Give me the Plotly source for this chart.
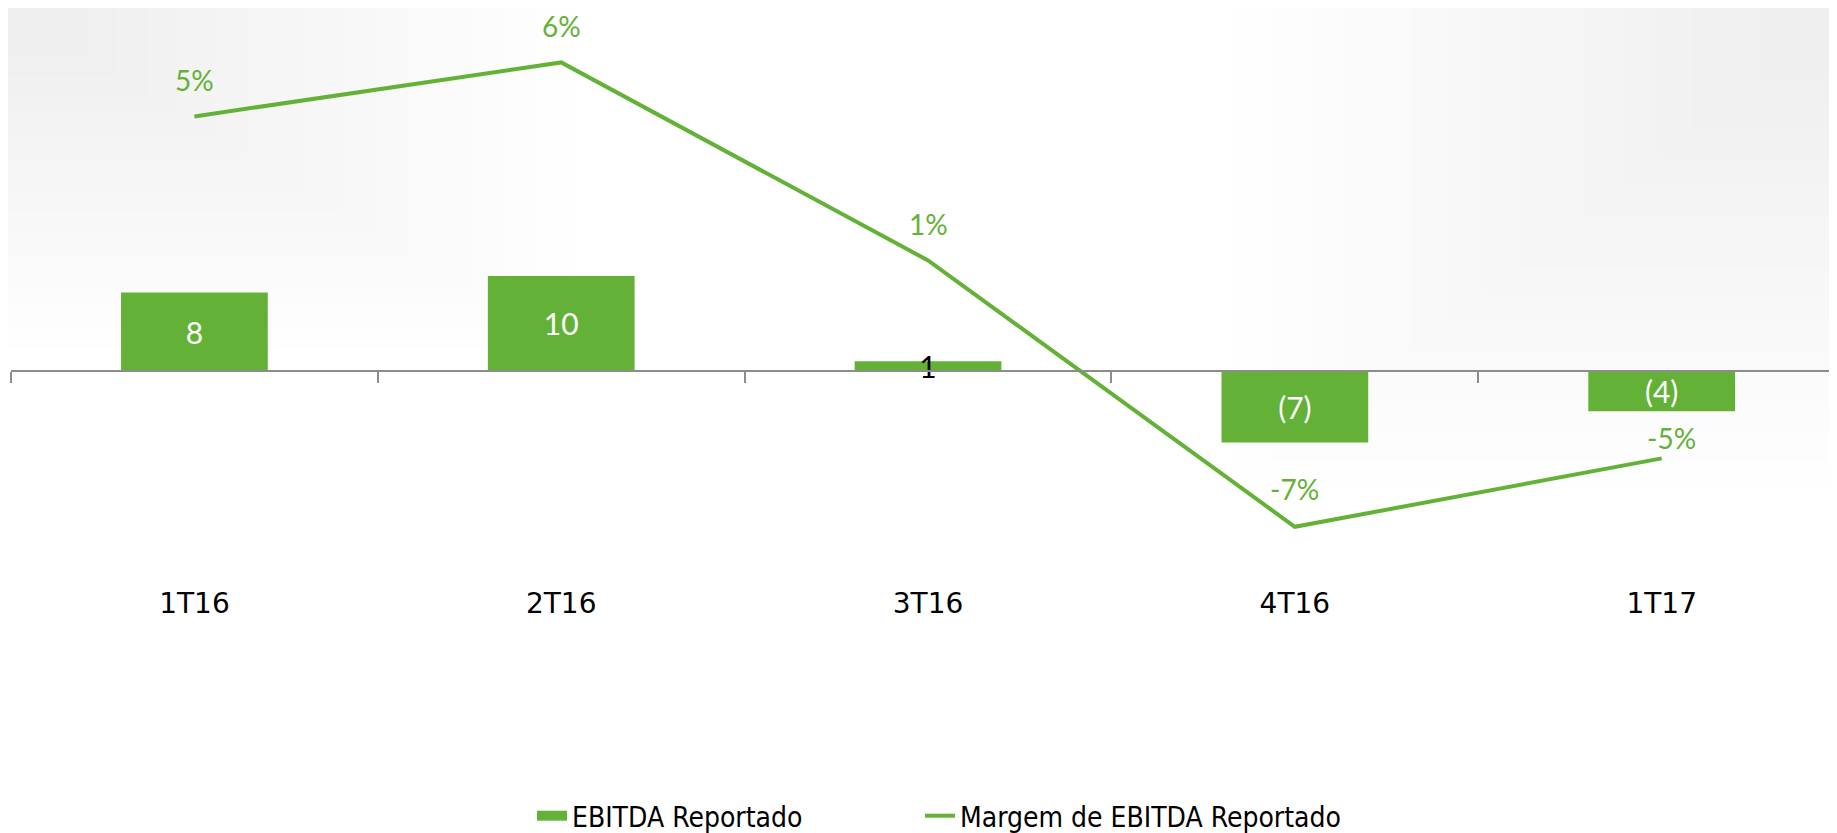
import plotly.graph_objects as go

categories = ["1T16", "2T16", "3T16", "4T16", "1T17"]
ebitda = [8.0, 9.7, 1.0, -7.3, -4.1]
margem = [0.046, 0.061, 0.006, -0.068, -0.049]

GREEN = "#63b237"
AXIS_GRAY = "#8c8c8c"
OFF = 8  # page body margin of the browser
W, H = 1837 - OFF, 833 - OFF
ML = 11 - OFF
PW = W - ML
PLOT_BOTTOM = 575 - OFF
ZERO_PX = 371 - OFF
ZERO2_PX = 282 - OFF
label_shift = [36, 36, 36, 38, 20]
label_xshift = [0, 0, 0, 0, 10]


def fmt_paren(v):
    r = round(abs(v))
    return f"({r})" if v < 0 else f"{r}"


bar_text = [fmt_paren(v) for v in ebitda]
bar_text_colors = ["white", "white", "black", "white", "white"]

fig = go.Figure()

fig.add_trace(go.Bar(
    x=categories, y=ebitda, name="EBITDA Reportado",
    xaxis="x2", yaxis="y",
    marker=dict(color=GREEN, line=dict(width=0)),
    width=0.4,
    text=bar_text, textangle=0,
    textposition="inside", insidetextanchor="middle",
    constraintext="none",
    textfont=dict(family="Lato, sans-serif", size=30, color=bar_text_colors),
    insidetextfont=dict(family="Lato, sans-serif", size=30, color=bar_text_colors),
    cliponaxis=False, showlegend=False,
))

# legend entry for the bars (thick swatch)
fig.add_trace(go.Scatter(
    x=[None], y=[None], name="EBITDA Reportado", mode="lines",
    line=dict(color=GREEN, width=15), legend="legend", showlegend=True,
))

fig.add_trace(go.Scatter(
    x=categories, y=margem, name="Margem de EBITDA Reportado",
    mode="lines", line=dict(color=GREEN, width=4),
    yaxis="y2", legend="legend2",
))

for c, v, ys, xs in zip(categories, margem, label_shift, label_xshift):
    fig.add_annotation(
        x=c, y=v, xref="x", yref="y2", text=f"{v*100:.0f}%",
        showarrow=False, yshift=ys, xshift=xs,
        font=dict(family="Lato, sans-serif", size=28, color=GREEN),
    )

# soft grey vignette in the top corners
shapes = []
n = 16
for i in range(n):
    f = (i + 1) / n
    wl, hl = 40 + 520 * f, 30 + 310 * f
    shapes.append(dict(type="rect", xref="paper", yref="paper",
                       xsizemode="pixel", ysizemode="pixel",
                       xanchor=0, yanchor=1,
                       x0=-ML - 2, x1=wl, y0=-hl, y1=2,
                       fillcolor="rgba(0,0,0,0.0045)", line=dict(width=0), layer="below"))
    wr, hr = 40 + 560 * f, 40 + 440 * f
    shapes.append(dict(type="rect", xref="paper", yref="paper",
                       xsizemode="pixel", ysizemode="pixel",
                       xanchor=1, yanchor=1,
                       x0=-wr, x1=10, y0=-hr, y1=2,
                       fillcolor="rgba(0,0,0,0.0042)", line=dict(width=0), layer="below"))

scale1 = 9.8
scale2 = 3600.0
xr = [-0.5, 4.478]
legend_font = dict(family="DejaVu Sans Condensed, DejaVu Sans", size=28, color="black")
leg_y = (PLOT_BOTTOM - (816 - OFF)) / PLOT_BOTTOM

fig.update_layout(
    width=W, height=H,
    margin=dict(l=ML, r=0, t=0, b=H - PLOT_BOTTOM, autoexpand=False),
    paper_bgcolor="white", plot_bgcolor="rgba(0,0,0,0)",
    shapes=shapes,
    legend=dict(orientation="h", x=(532 - OFF - ML) / PW, xanchor="left",
                y=leg_y, yanchor="middle", font=legend_font,
                bgcolor="rgba(0,0,0,0)", borderwidth=0),
    legend2=dict(orientation="h", x=(920 - OFF - ML) / PW, xanchor="left",
                 y=leg_y, yanchor="middle", font=legend_font,
                 bgcolor="rgba(0,0,0,0)", borderwidth=0),
    xaxis=dict(type="category", categoryarray=categories, range=xr,
               showline=False, showgrid=False, zeroline=False,
               ticks="outside", ticklen=3, tickcolor="rgba(0,0,0,0)",
               tickfont=dict(family="DejaVu Sans", size=28, color="black")),
    xaxis2=dict(type="category", categoryarray=categories, overlaying="x",
                anchor="free", position=(PLOT_BOTTOM - ZERO_PX) / PLOT_BOTTOM,
                range=xr, showline=True, linecolor=AXIS_GRAY, linewidth=2,
                tickson="boundaries", ticks="outside", ticklen=11, tickwidth=1.5,
                tickcolor=AXIS_GRAY,
                showticklabels=False, showgrid=False, zeroline=False),
    yaxis=dict(range=[-(PLOT_BOTTOM - ZERO_PX) / scale1, ZERO_PX / scale1],
               visible=False, showgrid=False, zeroline=False),
    yaxis2=dict(range=[-(PLOT_BOTTOM - ZERO2_PX) / scale2, ZERO2_PX / scale2],
                overlaying="y", visible=False, showgrid=False, zeroline=False),
)

fig.write_html("out.html")
